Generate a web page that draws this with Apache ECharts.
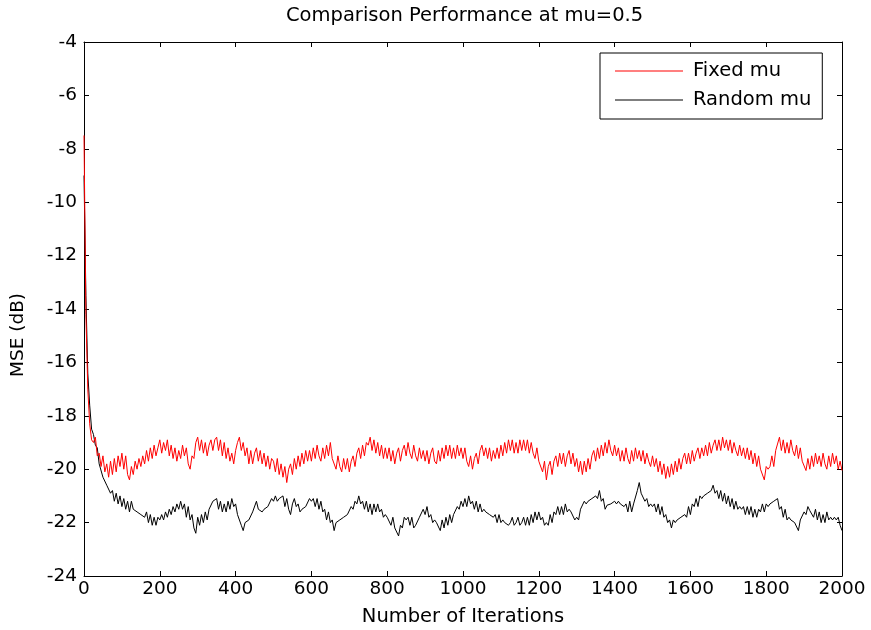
<!DOCTYPE html>
<html>
<head>
<meta charset="utf-8">
<script src="https://cdn.jsdelivr.net/npm/echarts@6/dist/echarts.min.js"></script>
<style>html,body{margin:0;padding:0;background:#fff}#c{width:871px;height:630px}</style>
</head>
<body>
<div id="c"></div>
<script>
const titleText = 'Comparison Performance at mu=0.5';
const xName = 'Number of Iterations';
const yName = 'MSE (dB)';
const seriesNames = ['Fixed mu', 'Random mu'];
const xTicks = [0, 200, 400, 600, 800, 1000, 1200, 1400, 1600, 1800, 2000];
const yTicks = [-24, -22, -20, -18, -16, -14, -12, -10, -8, -6, -4];
const sampleStep = 5; // one value every 5 iterations, starting at iteration 0

const fixedMu = [
-7.5,-14.2,-17.0,-18.3,-18.9,-19.0,-18.8,-19.5,-19.4,-19.9,-19.5,-20.1,-19.8,-20.3,-19.7,-20.2,-19.6,-20.1,-19.5,-19.9,
-19.4,-20.0,-19.5,-20.2,-20.4,-19.9,-20.2,-19.7,-20.0,-19.6,-19.9,-19.5,-19.8,-19.3,-19.7,-19.2,-19.6,-19.1,-19.5,-19.2,
-18.9,-19.4,-19.0,-19.3,-18.9,-19.5,-19.1,-19.6,-19.2,-19.7,-19.3,-19.6,-19.1,-19.5,-19.2,-19.8,-20.0,-19.5,-19.6,-19.0,
-18.8,-19.3,-18.9,-19.4,-19.0,-19.5,-19.1,-18.9,-19.3,-18.9,-18.8,-19.3,-18.9,-19.5,-19.0,-19.6,-19.2,-19.7,-19.4,-19.8,
-19.3,-19.0,-18.8,-19.3,-19.0,-19.5,-19.2,-19.8,-19.3,-19.8,-19.4,-19.2,-19.7,-19.3,-19.8,-19.4,-19.9,-19.5,-20.0,-19.6,
-19.7,-20.1,-19.6,-20.2,-19.8,-20.3,-19.9,-20.5,-20.0,-19.8,-20.2,-19.6,-20.0,-19.5,-19.9,-19.4,-19.8,-19.3,-19.7,-19.3,
-19.7,-19.2,-19.6,-19.1,-19.5,-19.7,-19.2,-19.6,-19.1,-19.5,-19.0,-19.6,-19.6,-20.0,-19.5,-19.9,-20.1,-19.6,-20.0,-19.6,
-20.1,-19.7,-19.5,-19.9,-19.4,-19.2,-19.6,-19.1,-19.5,-19.0,-19.1,-18.8,-19.3,-18.9,-19.4,-19.0,-19.5,-19.1,-19.6,-19.2,
-19.6,-19.2,-19.7,-19.3,-19.8,-19.4,-19.2,-19.7,-19.3,-19.1,-19.5,-19.0,-19.4,-19.6,-19.1,-19.5,-19.7,-19.2,-19.6,-19.3,
-19.7,-19.3,-19.8,-19.4,-19.2,-19.7,-19.8,-19.3,-19.7,-19.2,-19.6,-19.1,-19.5,-19.1,-19.6,-19.2,-19.6,-19.1,-19.5,-19.2,
-19.6,-19.2,-19.7,-19.9,-19.5,-20.0,-19.6,-19.4,-19.8,-19.3,-19.1,-19.5,-19.2,-19.6,-19.2,-19.7,-19.3,-19.6,-19.2,-19.6,
-19.1,-19.5,-19.0,-19.4,-18.9,-19.3,-18.9,-19.4,-19.0,-19.4,-18.9,-19.3,-18.9,-19.3,-18.9,-19.4,-19.0,-19.4,-19.6,-19.2,
-19.7,-19.7,-20.1,-19.7,-20.4,-19.9,-19.7,-20.2,-19.7,-19.5,-19.9,-19.4,-19.8,-19.4,-19.9,-19.5,-19.3,-19.8,-19.4,-19.9,
-19.6,-20.1,-19.7,-20.2,-19.7,-20.1,-19.6,-20.0,-19.5,-19.3,-19.7,-19.2,-19.6,-19.1,-19.5,-19.0,-19.4,-18.9,-19.3,-19.5,
-19.1,-19.5,-19.2,-19.7,-19.3,-19.7,-19.2,-19.6,-19.8,-19.3,-19.7,-19.2,-19.6,-19.3,-19.7,-19.3,-19.8,-19.4,-19.7,-19.9,
-19.5,-19.9,-19.6,-20.1,-19.7,-20.2,-19.8,-20.35,-19.9,-20.3,-19.8,-20.2,-19.7,-20.1,-19.6,-20.0,-19.6,-19.4,-19.8,-19.4,
-19.8,-19.3,-19.7,-19.4,-19.2,-19.6,-19.2,-19.5,-19.1,-19.5,-19.0,-19.4,-19.1,-18.9,-19.3,-18.9,-19.3,-18.8,-19.2,-18.9,
-19.3,-18.9,-19.4,-19.0,-19.3,-19.5,-19.1,-19.5,-19.2,-19.6,-19.2,-19.65,-19.3,-19.8,-19.4,-19.9,-19.5,-20.0,-20.0,-20.4,
-19.9,-20.0,-19.9,-19.5,-19.9,-19.3,-19.3,-18.8,-19.3,-18.9,-19.4,-19.0,-19.4,-18.9,-19.3,-19.5,-19.1,-19.6,-19.2,-19.7,
-19.7,-20.05,-19.6,-20.0,-19.5,-19.9,-19.4,-19.8,-19.5,-19.9,-19.4,-19.8,-20.0,-19.5,-19.9,-19.4,-19.8,-19.5,-20.0,-19.7,
-20.05
];

const randomMu = [
-9.0,-13.5,-16.4,-17.6,-18.5,-18.7,-19.1,-19.2,-19.8,-19.8,-20.3,-20.3,-20.6,-20.6,-20.9,-20.8,-21.2,-20.9,-21.3,-21.0,
-21.4,-21.1,-21.5,-21.2,-21.6,-21.2,-21.5,-21.5,-21.6,-21.6,-21.7,-21.7,-21.8,-21.6,-22.0,-21.7,-22.1,-21.8,-22.1,-21.8,
-21.9,-21.7,-21.9,-21.6,-21.8,-21.5,-21.7,-21.4,-21.6,-21.3,-21.5,-21.2,-21.5,-21.3,-21.8,-21.4,-21.9,-21.7,-22.2,-22.4,
-21.8,-22.1,-21.7,-22.0,-21.6,-21.9,-21.5,-21.5,-21.2,-21.2,-21.1,-21.5,-21.2,-21.6,-21.3,-21.6,-21.2,-21.5,-21.1,-21.4,
-21.3,-21.7,-21.7,-22.1,-22.3,-22.0,-22.0,-21.9,-21.9,-21.6,-21.6,-21.2,-21.5,-21.5,-21.6,-21.5,-21.5,-21.4,-21.4,-21.1,
-21.2,-21.0,-21.2,-21.1,-21.1,-21.0,-21.4,-21.1,-21.5,-21.7,-21.3,-21.1,-21.4,-21.3,-21.6,-21.5,-21.5,-21.4,-21.4,-21.1,
-21.2,-21.1,-21.4,-21.1,-21.5,-21.2,-21.6,-21.5,-21.9,-21.6,-22.0,-21.9,-22.3,-22.0,-22.0,-21.9,-21.9,-21.8,-21.8,-21.7,
-21.7,-21.4,-21.5,-21.2,-21.3,-21.0,-21.3,-21.2,-21.5,-21.2,-21.6,-21.3,-21.7,-21.3,-21.6,-21.3,-21.6,-21.5,-21.8,-21.7,
-21.8,-21.8,-22.1,-21.8,-22.2,-22.2,-22.5,-22.1,-22.2,-21.8,-21.9,-21.8,-22.1,-21.8,-22.2,-22.1,-22.1,-21.8,-21.8,-21.5,
-21.7,-21.4,-21.8,-21.7,-22.0,-21.9,-22.0,-22.0,-22.3,-21.9,-22.2,-21.8,-22.1,-21.7,-22.0,-21.7,-21.7,-21.4,-21.5,-21.2,
-21.4,-21.1,-21.4,-21.0,-21.3,-21.2,-21.5,-21.2,-21.6,-21.3,-21.6,-21.5,-21.6,-21.6,-21.7,-21.7,-21.8,-21.7,-22.0,-21.7,
-22.0,-21.9,-22.0,-22.0,-22.1,-22.0,-21.8,-22.1,-22.0,-21.8,-22.1,-22.0,-21.8,-22.1,-21.8,-22.1,-21.7,-22.0,-21.6,-21.9,
-21.6,-21.9,-21.8,-22.1,-22.0,-22.1,-21.7,-22.0,-21.6,-21.7,-21.4,-21.7,-21.4,-21.7,-21.3,-21.6,-21.5,-21.6,-21.6,-21.9,
-21.8,-21.9,-21.5,-21.5,-21.2,-21.3,-21.2,-21.2,-21.1,-21.1,-21.0,-21.1,-20.8,-21.2,-21.1,-21.5,-21.35,-21.4,-21.3,-21.3,
-21.2,-21.3,-21.2,-21.3,-21.3,-21.4,-21.3,-21.6,-21.2,-21.6,-21.3,-21.3,-20.8,-20.5,-20.9,-20.9,-21.2,-21.1,-21.4,-21.3,
-21.4,-21.3,-21.6,-21.3,-21.7,-21.4,-21.8,-21.7,-22.0,-21.9,-22.2,-21.9,-22.0,-21.9,-21.9,-21.8,-21.8,-21.7,-21.8,-21.4,
-21.7,-21.3,-21.4,-21.1,-21.4,-21.0,-21.1,-21.0,-21.0,-20.9,-20.9,-20.8,-20.6,-20.9,-20.8,-21.1,-20.8,-21.2,-20.9,-21.3,
-21.0,-21.4,-21.1,-21.5,-21.2,-21.5,-21.4,-21.5,-21.4,-21.7,-21.4,-21.7,-21.4,-21.8,-21.5,-21.8,-21.5,-21.6,-21.3,-21.6,
-21.3,-21.4,-21.3,-21.3,-21.2,-21.2,-21.1,-21.5,-21.4,-21.8,-21.5,-21.9,-21.8,-21.9,-21.9,-22.0,-22.0,-22.3,-21.9,-21.9,
-21.6,-21.7,-21.4,-21.55,-21.5,-21.8,-21.5,-21.9,-21.6,-22.0,-21.7,-22.0,-21.6,-21.9,-21.8,-21.9,-21.8,-21.9,-21.8,-22.1,
-22.3
];

const toPairs = arr => arr.map((v, i) => [i * sampleStep, v]);
const FONT = 'DejaVu Sans, sans-serif';
const FS = 19.5;
const FS_TICK = 18.5;

const chart = echarts.init(document.getElementById('c'), null, {renderer: 'canvas'});
const axisCommon = {
  axisLine: {show: true, onZero: false, lineStyle: {color: '#000', width: 1}},
  axisTick: {show: true, inside: true, length: 5, lineStyle: {color: '#000'}},
  splitLine: {show: false}
};
chart.setOption({
  animation: false,
  backgroundColor: '#fff',
  title: {
    text: titleText, left: 281, top: 1,
    textStyle: {fontFamily: FONT, fontSize: FS, fontWeight: 'normal', color: '#000'}
  },
  grid: {left: 84, right: 29, top: 42, bottom: 54, containLabel: false, outerBoundsMode: 'none'},
  legend: {
    data: seriesNames.map(n => ({name: n, icon: 'rect'})),
    orient: 'vertical', left: 600, top: 53,
    borderColor: '#000', borderWidth: 1, backgroundColor: '#fff', borderRadius: 0,
    padding: [8, 11, 9, 15], itemGap: 9, itemWidth: 68, itemHeight: 1,
    textStyle: {fontFamily: FONT, fontSize: FS, color: '#000', padding: [0, 0, 0, 5]}
  },
  graphic: [{
    type: 'text', x: 18, y: 335, rotation: Math.PI / 2,
    style: {text: yName, fontFamily: FONT, fontSize: FS_TICK, fill: '#000', align: 'center', verticalAlign: 'middle'}
  }],
  xAxis: [
    Object.assign({}, axisCommon, {
      type: 'value', min: xTicks[0], max: xTicks[xTicks.length - 1], interval: 200, position: 'bottom',
      name: xName, nameLocation: 'middle', nameGap: 31,
      nameTextStyle: {fontFamily: FONT, fontSize: FS, color: '#000'},
      axisLabel: {fontFamily: FONT, fontSize: FS_TICK, color: '#000', margin: 4, formatter: v => String(v)}
    }),
    Object.assign({}, axisCommon, {
      type: 'value', min: xTicks[0], max: xTicks[xTicks.length - 1], interval: 200, position: 'top',
      axisLabel: {show: false}
    })
  ],
  yAxis: [
    Object.assign({}, axisCommon, {
      type: 'value', min: yTicks[0], max: yTicks[yTicks.length - 1], interval: 2, position: 'left',
      axisLabel: {fontFamily: FONT, fontSize: FS_TICK, color: '#000', margin: 7, formatter: v => String(v)}
    }),
    Object.assign({}, axisCommon, {
      type: 'value', min: yTicks[0], max: yTicks[yTicks.length - 1], interval: 2, position: 'right',
      axisLabel: {show: false}
    })
  ],
  series: [
    {name: seriesNames[0], type: 'line', data: toPairs(fixedMu), symbol: 'none',
     lineStyle: {color: '#ff0000', width: 1}, itemStyle: {color: '#ff0000'}, z: 3},
    {name: seriesNames[1], type: 'line', data: toPairs(randomMu), symbol: 'none',
     lineStyle: {color: '#000000', width: 1}, itemStyle: {color: '#000000'}, z: 2}
  ]
});
</script>
</body>
</html>
